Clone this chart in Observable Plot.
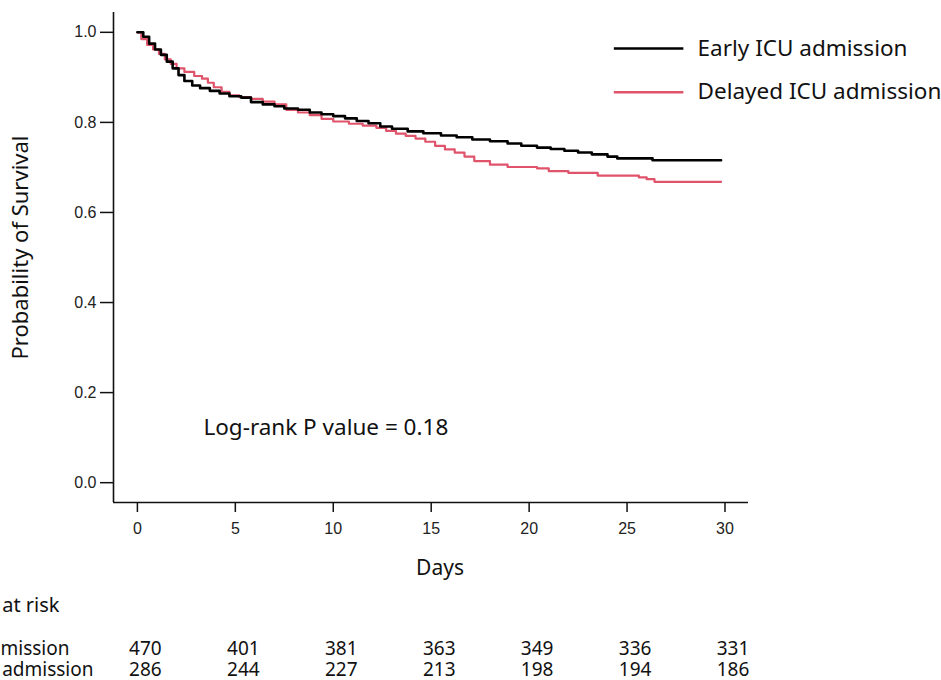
<!DOCTYPE html>
<html><head><meta charset="utf-8">
<script src="https://cdn.jsdelivr.net/npm/d3@7"></script>
<script src="https://cdn.jsdelivr.net/npm/@observablehq/plot@0.6"></script>
<style>
body{margin:0;background:#fff;overflow:hidden}
#chart{width:941px;height:680px}
#chart g[aria-label$="tick label"]{font-size:16px !important;font-family:"Liberation Sans",Arial,sans-serif !important}
</style>
</head><body><div id="chart"></div>
<script>
// ---- data ----
const earlyDays = [0, 0.3, 0.6, 0.9, 1.2, 1.5, 1.8, 2.1, 2.4, 2.8, 3.2, 3.7, 4.2, 4.7, 5.3, 5.8, 6.4, 7.0, 7.5, 8.2, 8.8, 9.4, 10.0, 10.6, 11.2, 11.8, 12.4, 13.0, 13.8, 14.6, 15.5, 16.3, 17.1, 18.0, 18.9, 19.6, 20.4, 21.1, 21.8, 22.5, 23.2, 24.0, 24.5, 26.3, 29.8];
const earlySurv = [1.0, 0.99, 0.975, 0.962, 0.95, 0.935, 0.92, 0.905, 0.892, 0.882, 0.876, 0.87, 0.864, 0.858, 0.855, 0.845, 0.84, 0.836, 0.831, 0.828, 0.822, 0.818, 0.814, 0.809, 0.803, 0.798, 0.791, 0.786, 0.78, 0.776, 0.771, 0.767, 0.762, 0.758, 0.753, 0.748, 0.744, 0.741, 0.737, 0.733, 0.729, 0.724, 0.72, 0.716, 0.716];
const delayedDays = [0, 0.2, 0.5, 0.8, 1.1, 1.4, 1.7, 2.0, 2.4, 2.9, 3.3, 3.6, 3.9, 4.3, 4.7, 5.2, 5.8, 6.4, 7.0, 7.6, 8.2, 8.8, 9.4, 10.0, 10.8, 11.5, 12.2, 12.7, 13.2, 13.7, 14.2, 14.7, 15.2, 15.7, 16.2, 16.7, 17.2, 18.0, 18.9, 20.4, 21.0, 22.0, 23.5, 25.6, 26.0, 26.4, 29.8];
const delayedSurv = [1.0, 0.985, 0.972, 0.962, 0.952, 0.94, 0.93, 0.92, 0.912, 0.903, 0.897, 0.888, 0.878, 0.868, 0.86, 0.856, 0.852, 0.846, 0.84, 0.828, 0.822, 0.816, 0.808, 0.802, 0.797, 0.793, 0.788, 0.781, 0.775, 0.77, 0.764, 0.757, 0.748, 0.74, 0.733, 0.724, 0.714, 0.706, 0.701, 0.698, 0.692, 0.688, 0.682, 0.678, 0.674, 0.668, 0.668];
const groups = ["Early ICU admission", "Delayed ICU admission"];
const groupColors = ["#000000", "#DF536B"];
const xTicks = [0, 5, 10, 15, 20, 25, 30];
const yTicks = [0, 0.2, 0.4, 0.6, 0.8, 1.0];
const riskDays = [0, 5, 10, 15, 20, 25, 30];
const riskEarly = [470, 401, 381, 363, 349, 336, 331];
const riskDelayed = [286, 244, 227, 213, 198, 194, 186];
const pValueText = "Log-rank P value = 0.18";
const xLabel = "Days";
const yLabel = "Probability of Survival";
const riskTitle = "Number at risk";

// ---- tables built from the arrays ----
const curves = [
  ...earlyDays.map((d, i) => ({group: groups[0], day: d, surv: earlySurv[i]})),
  ...delayedDays.map((d, i) => ({group: groups[1], day: d, surv: delayedSurv[i]}))
];
const riskRows = [
  ...riskDays.map((d, i) => ({row: 0, day: d, n: riskEarly[i]})),
  ...riskDays.map((d, i) => ({row: 1, day: d, n: riskDelayed[i]}))
];
const legendItems = groups.map((g, i) => ({group: g, i}));

const textFont = "Noto Sans";
const xDomain = [-1.22, 31.2];
const yDomain = [-0.044, 1.044];
const legendY = [0.964, 0.867];

const chart = Plot.plot({
  width: 941,
  height: 680,
  marginLeft: 113,
  marginRight: 193,
  marginTop: 12,
  marginBottom: 178,
  style: {fontFamily: "Liberation Sans", fontSize: "16px", color: "#111", background: "#fff"},
  x: {domain: xDomain},
  y: {domain: yDomain},
  color: {domain: groups, range: groupColors},
  marks: [
    // axes
    Plot.ruleX([xDomain[0]], {y1: yDomain[0], y2: yDomain[1], stroke: "#111", strokeWidth: 1.6}),
    Plot.ruleY([yDomain[0]], {x1: xDomain[0], x2: xDomain[1], stroke: "#111", strokeWidth: 1.6}),
    Plot.axisX({ticks: xTicks, tickSize: 10, tickPadding: 10, fontSize: 16, strokeWidth: 1.5, label: null, fill: "#222"}),
    Plot.axisY({ticks: yTicks, tickSize: 13, tickPadding: 4, tickFormat: ".1f", fontSize: 16, strokeWidth: 1.5, label: null, fill: "#222"}),
    // survival curves
    Plot.line(curves.filter(d => d.group === groups[1]), {x: "day", y: "surv", stroke: "group", curve: "step-after", strokeWidth: 2.2}),
    Plot.line(curves.filter(d => d.group === groups[0]), {x: "day", y: "surv", stroke: "group", curve: "step-after", strokeWidth: 2.6}),
    // legend
    Plot.ruleY(legendItems, {y: d => legendY[d.i], x1: 24.35, x2: 27.9, stroke: d => d.group, strokeWidth: 2.4}),
    Plot.text(legendItems, {y: d => legendY[d.i], x: 28.6, text: "group", textAnchor: "start", fontFamily: textFont, fontSize: 22.5, fill: "#111"}),
    // p-value annotation
    Plot.text([pValueText], {x: 3.37, y: 0.122, text: d => d, textAnchor: "start", fontFamily: textFont, fontSize: 22.5, fill: "#111"}),
    // axis titles
    Plot.text([xLabel], {frameAnchor: "bottom", dx: 9, dy: 72, text: d => d, fontFamily: textFont, fontSize: 21, fill: "#111"}),
    Plot.text([yLabel], {frameAnchor: "left", dx: -93, dy: -10, rotate: -90, textAnchor: "middle", text: d => d, fontFamily: textFont, fontSize: 22, fill: "#111"}),
    // number at risk table
    Plot.text([riskTitle], {frameAnchor: "bottom-left", dx: -54, dy: 109, textAnchor: "end", text: d => d, fontFamily: textFont, fontSize: 20, fill: "#111"}),
    Plot.text(groups, {frameAnchor: "bottom-left", text: d => d, textAnchor: "end",
      fontFamily: textFont, fontSize: 19, fill: "#111", filter: (d, i) => i === 0, dx: -44, dy: 152}),
    Plot.text(groups, {frameAnchor: "bottom-left", text: d => d, textAnchor: "end",
      fontFamily: textFont, fontSize: 19, fill: "#111", filter: (d, i) => i === 1, dx: -20, dy: 173}),
    Plot.text(riskRows.filter(d => d.row === 0), {x: "day", frameAnchor: "bottom", dy: 152, dx: 8, text: "n", fontFamily: textFont, fontSize: 19, fill: "#111"}),
    Plot.text(riskRows.filter(d => d.row === 1), {x: "day", frameAnchor: "bottom", dy: 173, dx: 8, text: "n", fontFamily: textFont, fontSize: 19, fill: "#111"})
  ]
});
document.getElementById("chart").appendChild(chart);
</script>
</body></html>
